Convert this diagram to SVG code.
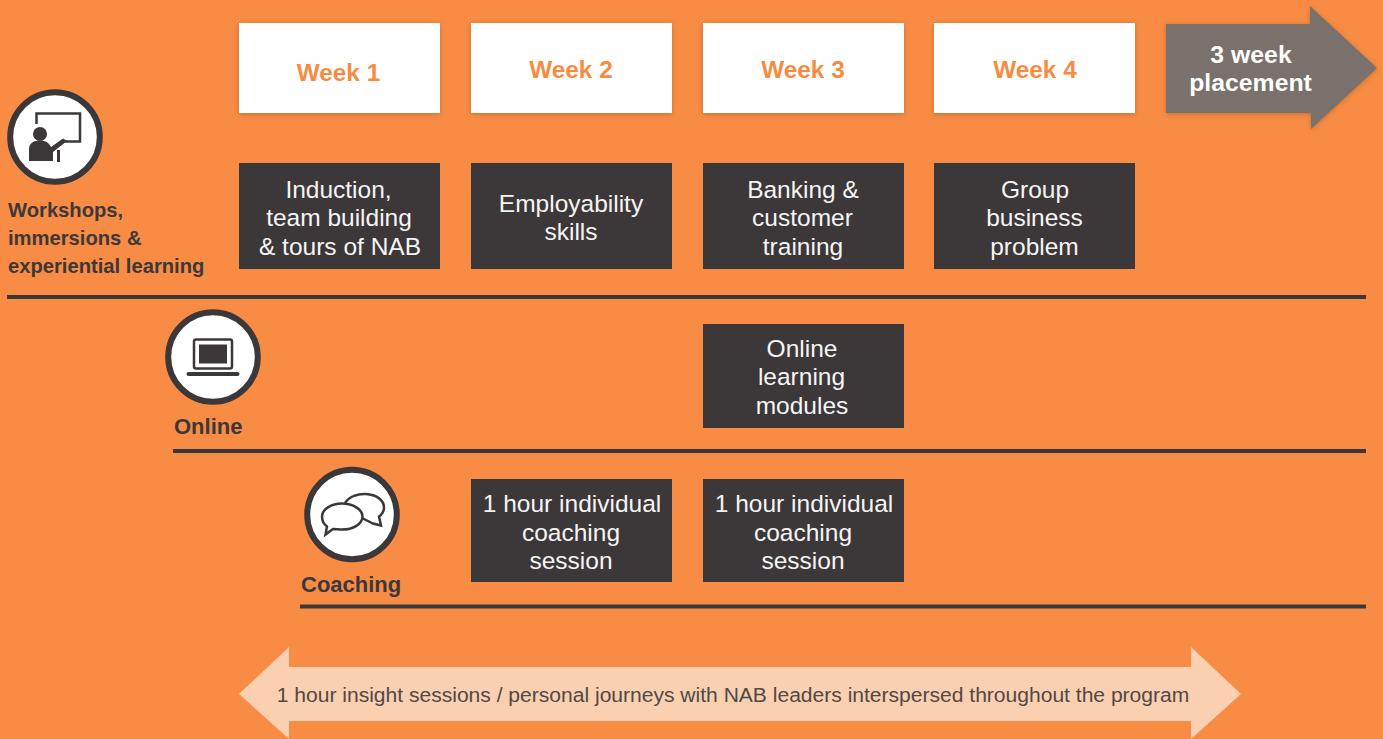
<svg xmlns="http://www.w3.org/2000/svg" width="1383" height="739" viewBox="0 0 1383 739">
<defs>
<filter id="shadow" x="-10%" y="-15%" width="120%" height="130%"><feDropShadow dx="0" dy="1" stdDeviation="2.500" flood-color="#7a4a20" flood-opacity="0.45"/></filter>
</defs>
<style>
text{font-family:"Liberation Sans",Arial,sans-serif}
.wk{fill:#fff;filter:url(#shadow)}
.wt{fill:#f68b41;font-size:24.3px;font-weight:700;text-anchor:middle}
.box{fill:#3c3839}
.bt{fill:#f6f5f5;font-size:24.5px;text-anchor:middle}
.lab{fill:#3c3839;font-weight:700}
.rule{stroke:#3c3839;stroke-width:4;fill:none}
.ring{fill:#fff;stroke:#3c3839;stroke-width:6}
.ic{fill:#3c3839}
.il{fill:none;stroke:#3c3839}
</style>
<rect width="1383" height="739" fill="#f88c44"/>
<g id="connectors">
<path class="rule" d="M7 297H1366"/>
<path class="rule" d="M173 451H1366"/>
<path class="rule" d="M300 606.500H1366"/>
</g>
<g id="week1"><rect class="wk" x="239" y="23" width="201" height="90"/><text class="wt" x="338.500" y="81">Week 1</text></g>
<g id="week2"><rect class="wk" x="471" y="23" width="201" height="90"/><text class="wt" x="571" y="78">Week 2</text></g>
<g id="week3"><rect class="wk" x="703" y="23" width="201" height="90"/><text class="wt" x="803" y="78">Week 3</text></g>
<g id="week4"><rect class="wk" x="934" y="23" width="201" height="90"/><text class="wt" x="1035" y="78">Week 4</text></g>
<g id="placement">
<path fill="#7a716c" filter="url(#shadow)" d="M1166 24H1310V6L1377 68L1311 129V113H1166Z"/>
<text x="1251" y="63" fill="#fff" font-size="24.800" font-weight="700" text-anchor="middle">3 week</text>
<text x="1250.500" y="91" fill="#fff" font-size="24.800" font-weight="700" text-anchor="middle">placement</text>
</g>
<g id="workshops-icon">
<circle class="ring" cx="55" cy="137" r="44.800"/>
<path class="il" stroke-width="2.500" d="M36.500 124V113.500H80V141.500H62"/>
<circle class="ic" cx="40" cy="134" r="7"/>
<path class="ic" d="M29 161V149C29 143 34 140.500 40 140.500C46 140.500 49 143 51 147L63 138.500L67 141L53 152V161Z"/>
<rect class="ic" x="57" y="150" width="3" height="12"/>
</g>
<g id="workshops-label" font-size="20.200">
<text class="lab" x="8" y="217">Workshops,</text>
<text class="lab" x="8" y="245">immersions &amp;</text>
<text class="lab" x="8" y="273">experiential learning</text>
</g>
<g id="online-icon">
<circle class="ring" cx="213" cy="357" r="44.800"/>
<rect class="il" stroke-width="2.500" x="194" y="339.500" width="38" height="29" rx="2"/>
<rect class="ic" x="199" y="344.500" width="28" height="19"/>
<rect class="ic" x="186.500" y="372" width="53" height="4" rx="2"/>
</g>
<text id="online-label" class="lab" font-size="22" x="174" y="434">Online</text>
<g id="coaching-icon">
<circle class="ring" cx="352" cy="514.500" r="44.800"/>
<path class="il" stroke-width="2.500" d="M345 503C349 496.500 358 493.500 366 494C376 494.500 384 500 384 507.500C384 511 382.500 514 379 516.500L381 525.500L373 523.500L362 518"/>
<path class="il" stroke-width="2.500" d="M342 503.500C353 503.500 362.500 509.500 362.500 516.500C362.500 524 353 529.500 342 529.500C339 529.500 336 529 333 529L325.500 534.500L327 526.500C325 525 322 521 322 516.500C322 509.500 331 503.500 342 503.500Z"/>
</g>
<text id="coaching-label" class="lab" font-size="22" x="301" y="592">Coaching</text>
<g id="induction"><rect class="box" x="239" y="163" width="201" height="106"/>
<text class="bt" x="338.500" y="198">Induction,</text><text class="bt" x="339" y="226">team building</text><text class="bt" x="340" y="255" font-size="25">&amp; tours of NAB</text></g>
<g id="employability"><rect class="box" x="471" y="163" width="201" height="106"/>
<text class="bt" x="571" y="212">Employability</text><text class="bt" x="571" y="240">skills</text></g>
<g id="banking"><rect class="box" x="703" y="163" width="201" height="106"/>
<text class="bt" x="803" y="198">Banking &amp;</text><text class="bt" x="802.500" y="226">customer</text><text class="bt" x="803" y="255">training</text></g>
<g id="group-problem"><rect class="box" x="934" y="163" width="201" height="106"/>
<text class="bt" x="1035" y="198">Group</text><text class="bt" x="1034.500" y="226">business</text><text class="bt" x="1034.500" y="255">problem</text></g>
<g id="online-modules"><rect class="box" x="703" y="324" width="201" height="104"/>
<text class="bt" x="802" y="357">Online</text><text class="bt" x="801.500" y="385">learning</text><text class="bt" x="802" y="414">modules</text></g>
<g id="coaching-1"><rect class="box" x="471" y="479" width="201" height="103"/>
<text class="bt" x="572" y="512">1 hour individual</text><text class="bt" x="571" y="540.500">coaching</text><text class="bt" x="571" y="569">session</text></g>
<g id="coaching-2"><rect class="box" x="703" y="479" width="201" height="103"/>
<text class="bt" x="804" y="512">1 hour individual</text><text class="bt" x="803" y="540.500">coaching</text><text class="bt" x="803" y="569">session</text></g>
<g id="insight">
<path fill="#fbd0b0" d="M239 694L289 647V667H1191V647L1241 694L1191 739V721H289V739Z"/>
<text x="733" y="702" fill="#4f4a48" font-size="21.050" text-anchor="middle">1 hour insight sessions / personal journeys with NAB leaders interspersed throughout the program</text>
</g>
</svg>
